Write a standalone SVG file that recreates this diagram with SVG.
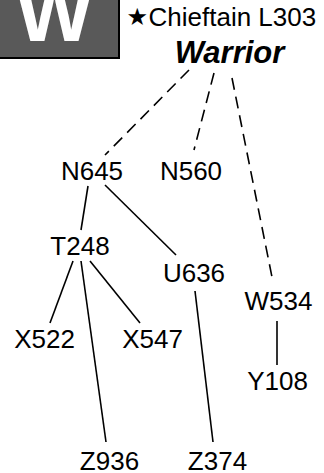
<svg xmlns="http://www.w3.org/2000/svg" width="324" height="473" viewBox="0 0 324 473">
<style>
.lbl{font-family:"Liberation Sans",Arial,sans-serif;font-size:26px;fill:#000;text-anchor:middle}
.ln{stroke:#000;stroke-width:1.6;fill:none}
.dash{stroke-dasharray:12 7}
</style>
<rect width="324" height="473" fill="#fff"/>
<g id="badge">
<rect x="-2" y="-2" width="121" height="60" fill="#595959" stroke="#000" stroke-width="2"/>
<text x="54.5" y="41" font-family="Liberation Sans,Arial,sans-serif" font-weight="bold" font-size="82" fill="#fff" text-anchor="middle">W</text>
</g>
<g id="title">
<text x="126.5" y="26" font-family="Liberation Sans,Arial,sans-serif" font-size="26"><tspan font-family="DejaVu Sans,sans-serif" font-size="24" dy="-1">★</tspan><tspan x="148.5" dy="1">Chieftain L303</tspan></text>
<text x="229.5" y="62.5" font-family="Liberation Sans,Arial,sans-serif" font-size="31" font-weight="bold" font-style="italic" text-anchor="middle">Warrior</text>
</g>
<g id="connectors">
<line class="ln dash" x1="189" y1="70" x2="105" y2="155"/>
<line class="ln dash" x1="214" y1="73" x2="194" y2="150"/>
<line class="ln dash" x1="232" y1="78" x2="273" y2="282"/>
<line class="ln" x1="88" y1="186" x2="81" y2="230"/>
<line class="ln" x1="105" y1="185" x2="176" y2="255"/>
<line class="ln" x1="73" y1="261" x2="50" y2="323"/>
<line class="ln" x1="81" y1="261" x2="106" y2="442"/>
<line class="ln" x1="90" y1="261" x2="140" y2="323"/>
<line class="ln" x1="195" y1="291" x2="213" y2="442"/>
<line class="ln" x1="277" y1="321" x2="277" y2="365"/>
</g>
<g id="N645"><text class="lbl" x="92" y="180">N645</text></g>
<g id="N560"><text class="lbl" x="191" y="180">N560</text></g>
<g id="T248"><text class="lbl" x="80" y="255">T248</text></g>
<g id="U636"><text class="lbl" x="194" y="282">U636</text></g>
<g id="W534"><text class="lbl" x="278.5" y="310">W534</text></g>
<g id="X522"><text class="lbl" x="44.5" y="348">X522</text></g>
<g id="X547"><text class="lbl" x="152.5" y="348">X547</text></g>
<g id="Y108"><text class="lbl" x="277.5" y="390">Y108</text></g>
<g id="Z936"><text class="lbl" x="109.5" y="470">Z936</text></g>
<g id="Z374"><text class="lbl" x="217.5" y="470">Z374</text></g>
</svg>
